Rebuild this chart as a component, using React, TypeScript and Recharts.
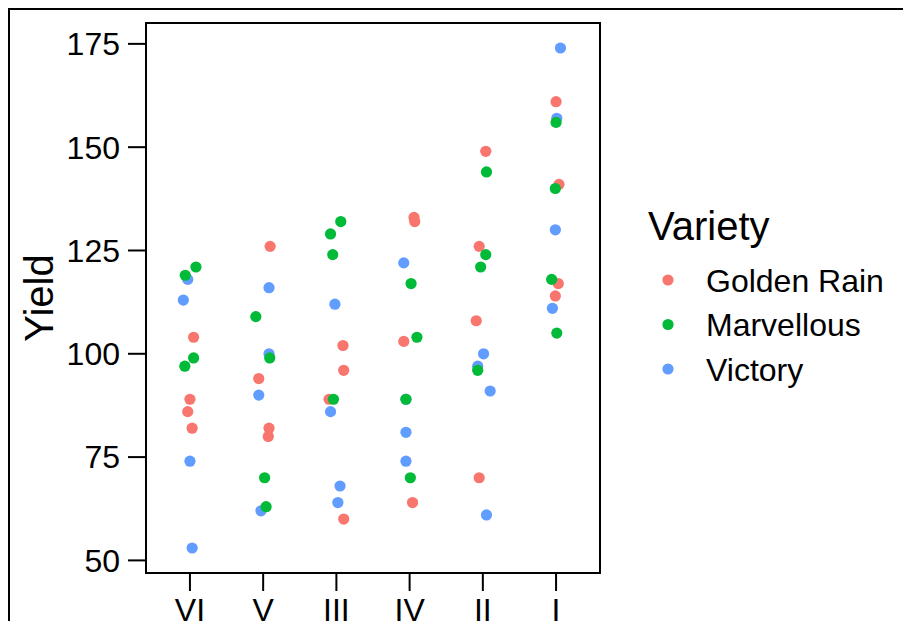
import { ScatterChart, Scatter, XAxis, YAxis, ReferenceArea, Legend } from "recharts";

const blocks = ["VI", "V", "III", "IV", "II", "I"];
const yTicks = [50, 75, 100, 125, 150, 175];

const varieties = ["Golden Rain", "Marvellous", "Victory"];
const colors = ["#F8766D", "#00BA38", "#619CFF"];

// yields per block (same order as blocks), 4 nitrogen levels each
const goldenRain = [[89, 82, 86, 104], [80, 82, 94, 126], [60, 102, 89, 96], [64, 103, 132, 133], [70, 108, 126, 149], [117, 114, 161, 141]];
const goldenJitter = [[0, 0.03, -0.03, 0.05], [0.07, 0.08, -0.06, 0.095], [0.1, 0.09, -0.1, 0.1], [0.04, -0.08, 0.07, 0.06], [-0.05, -0.09, -0.05, 0.04], [0.03, -0.01, 0, 0.04]];

const marvellous = [[97, 99, 119, 121], [63, 70, 109, 99], [89, 129, 132, 124], [70, 89, 104, 117], [96, 124, 121, 144], [105, 140, 118, 156]];
const marvJitter = [[-0.07, 0.05, -0.064, 0.082], [0.04, 0.02, -0.1, 0.09], [-0.04, -0.08, 0.06, -0.05], [0.01, -0.05, 0.1, 0.02], [-0.07, 0.04, -0.03, 0.05], [0.01, -0.01, -0.06, 0]];

const victory = [[53, 74, 118, 113], [62, 90, 100, 116], [68, 64, 112, 86], [74, 89, 81, 122], [61, 91, 97, 100], [111, 130, 157, 174]];
const victJitter = [[0.03, 0, -0.03, -0.09], [-0.03, -0.06, 0.08, 0.08], [0.05, 0.02, -0.02, -0.08], [-0.05, -0.05, -0.05, -0.08], [0.05, 0.1, -0.07, 0.01], [-0.05, -0.01, 0.01, 0.06]];

const toPoints = (yields: number[][], jitter: number[][]) =>
  yields.flatMap((row, b) => row.map((y, i) => ({ x: b + 1 + jitter[b][i], y })));

const FONT = "'Liberation Sans', Arial, sans-serif";
const R = 5.6;

const dot = (color: string) => (p: any) => <circle cx={p.cx} cy={p.cy} r={R} fill={color} />;

function VarietyLegend() {
  return (
    <svg width={280} height={210} style={{ fontFamily: FONT }}>
      <text x={18} y={50} fontSize={40} fill="#000">Variety</text>
      {varieties.map((v, i) => (
        <g key={v}>
          <circle cx={38} cy={90 + i * 44.5} r={R} fill={colors[i]} />
          <text x={76} y={90 + i * 44.5 + 11.5} fontSize={32} fill="#000">{v}</text>
        </g>
      ))}
    </svg>
  );
}

const yLabel = (props: any) => {
  const vb = props.viewBox;
  const x = vb.x - 13;
  const y = vb.y + vb.height / 2;
  return (
    <text x={x} y={y} transform={`rotate(-90, ${x}, ${y})`} textAnchor="middle" fontSize={40} fill="#000" fontFamily={FONT}>
      Yield
    </text>
  );
};

export default function App() {
  const axisStyle = { stroke: "#000", strokeWidth: 2 };
  return (
    <div style={{ width: 903, height: 613, borderTop: "2px solid #000", borderLeft: "2px solid #000", boxSizing: "border-box", overflow: "hidden", background: "#fff" }}>
      <ScatterChart width={901} height={640} margin={{ top: 13, right: 311, bottom: 17, left: 56 }}>
        <XAxis
          type="number"
          dataKey="x"
          domain={[0.4, 6.6]}
          ticks={[1, 2, 3, 4, 5, 6]}
          tickFormatter={(v: number) => blocks[v - 1]}
          height={60}
          tickSize={18}
          tickMargin={7}
          axisLine={axisStyle}
          tickLine={axisStyle}
          tick={{ fill: "#000", fontSize: 32, fontFamily: FONT }}
          allowDataOverflow
        />
        <YAxis
          type="number"
          dataKey="y"
          domain={[46.95, 180.05]}
          ticks={yTicks}
          width={80}
          tickSize={18}
          tickMargin={8}
          axisLine={axisStyle}
          tickLine={axisStyle}
          tick={{ fill: "#000", fontSize: 32, fontFamily: FONT }}
          label={yLabel}
          allowDataOverflow
        />
        <ReferenceArea x1={0.4} x2={6.6} y1={46.95} y2={180.05} fill="none" stroke="#000" strokeWidth={2} ifOverflow="visible" />
        <Scatter name="Victory" data={toPoints(victory, victJitter)} shape={dot(colors[2])} isAnimationActive={false} />
        <Scatter name="Golden Rain" data={toPoints(goldenRain, goldenJitter)} shape={dot(colors[0])} isAnimationActive={false} />
        <Scatter name="Marvellous" data={toPoints(marvellous, marvJitter)} shape={dot(colors[1])} isAnimationActive={false} />
        <Legend
          layout="vertical"
          align="center"
          verticalAlign="middle"
          content={() => <VarietyLegend />}
          wrapperStyle={{ position: "absolute", left: 620, top: 180, width: 280, height: 210 }}
        />
      </ScatterChart>
    </div>
  );
}
